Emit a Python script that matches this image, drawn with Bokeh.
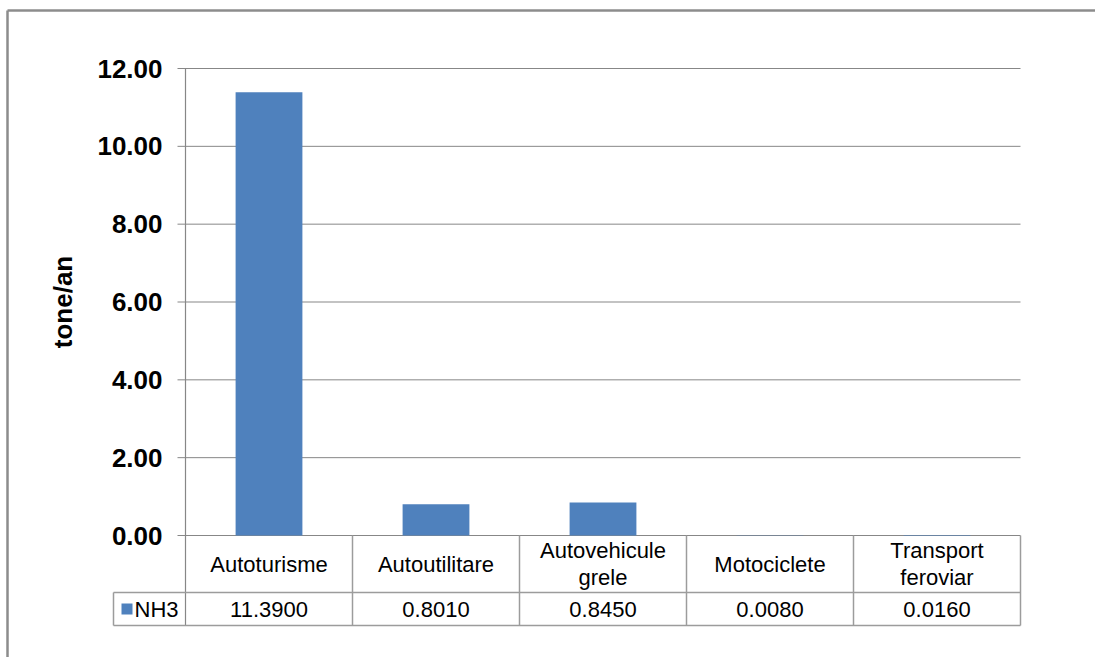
from math import pi
from bokeh.plotting import figure
from bokeh.models import Range1d
from bokeh.core.properties import value
from bokeh.embed import file_html
from bokeh.resources import INLINE

# ---------------- data ----------------
categories = ["Autoturisme", "Autoutilitare", "Autovehicule\ngrele", "Motociclete", "Transport\nferoviar"]
series_name = "NH3"
nh3_values = [11.3900, 0.8010, 0.8450, 0.0080, 0.0160]
y_ticks = [0, 2, 4, 6, 8, 10, 12]
y_tick_labels = ["0.00", "2.00", "4.00", "6.00", "8.00", "10.00", "12.00"]
y_title = "tone/an"

# ---------------- layout (page pixels) ----------------
W, H = 1095, 657
PAGE = 0                       # canvas is placed at the page origin
X0, XS = 185.0, 167.0          # page x of category axis start, px per category
Y0 = 535.0                     # page y of value 0
YS = (535.0 - 68.0) / 12.0     # px per value unit

def xd(px):
    return (px - X0) / XS

def yd(py):
    return (Y0 - py) / YS

FONT = value("Liberation Sans")
GRID = "#878787"
TABLE = "#9c9c9c"
BAR = "#4F81BD"

p = figure(width=W, height=H, output_backend="svg", toolbar_location=None,
           x_axis_type=None, y_axis_type=None, min_border=0,
           x_range=Range1d(xd(PAGE), xd(PAGE + W)),
           y_range=Range1d(yd(PAGE + H), yd(PAGE)))
p.outline_line_color = None
p.background_fill_color = "white"
p.border_fill_color = "white"
p.xgrid.visible = False
p.ygrid.visible = False

n = len(categories)
centers = [i + 0.5 for i in range(n)]

# chart-area border (left and top)
p.segment(x0=[xd(7), xd(7)], y0=[yd(10), yd(10)], x1=[xd(7), xd(PAGE + W + 10)], y1=[yd(PAGE + H + 10), yd(10)],
          line_color="#8c8c8c", line_width=2.5)

# gridlines + tick marks
p.segment(x0=[xd(177)] * len(y_ticks), y0=y_ticks, x1=[n] * len(y_ticks), y1=y_ticks,
          line_color=GRID, line_width=1)

# bars
p.vbar(x=centers, top=nh3_values, bottom=0, width=0.4, fill_color=BAR, line_color=None)

# value axis line (also table left border)
p.segment(x0=[0], y0=[max(y_ticks)], x1=[0], y1=[yd(625)], line_color=GRID, line_width=1.2)

# tick labels
p.text(x=[xd(162)] * len(y_ticks), y=y_ticks, text=y_tick_labels, text_font=FONT,
       text_font_style="bold", text_font_size="26px", text_align="right",
       text_baseline="middle", text_color="#000000")

# axis title
p.text(x=[xd(62)], y=[(max(y_ticks) + min(y_ticks)) / 2], text=[y_title], angle=pi / 2,
       text_font=FONT, text_font_style="bold", text_font_size="26px",
       text_align="center", text_baseline="middle", text_color="#000000")

# data table
row1_bottom, row2_bottom = 592, 625
p.segment(x0=list(range(1, n + 1)), y0=[0] * n, x1=list(range(1, n + 1)), y1=[yd(row2_bottom)] * n,
          line_color=TABLE, line_width=1.5)
p.segment(x0=[xd(113), xd(113)], y0=[yd(row1_bottom), yd(row2_bottom)], x1=[n, n],
          y1=[yd(row1_bottom), yd(row2_bottom)], line_color=TABLE, line_width=1.5)
p.segment(x0=[xd(113)], y0=[yd(row1_bottom)], x1=[xd(113)], y1=[yd(row2_bottom)],
          line_color=TABLE, line_width=1.5)

p.text(x=centers, y=[yd((Y0 + row1_bottom) / 2)] * n, text=categories, text_font=FONT,
       text_font_size="22px", text_align="center", text_baseline="middle",
       text_line_height=1.05, text_color="#000000")
p.text(x=centers, y=[yd((row1_bottom + row2_bottom) / 2)] * n,
       text=[f"{v:.4f}" for v in nh3_values], text_font=FONT, text_font_size="22px",
       text_align="center", text_baseline="middle", text_color="#000000")

# legend key in table
p.rect(x=[xd(126.5)], y=[yd(608.5)], width=11, height=11, width_units="screen",
       height_units="screen", fill_color=BAR, line_color=None)
p.text(x=[xd(134)], y=[yd(608.5)], text=[series_name], text_font=FONT, text_font_size="22px",
       text_align="left", text_baseline="middle", text_color="#000000")

open("out.html", "w").write(file_html(p, INLINE))
